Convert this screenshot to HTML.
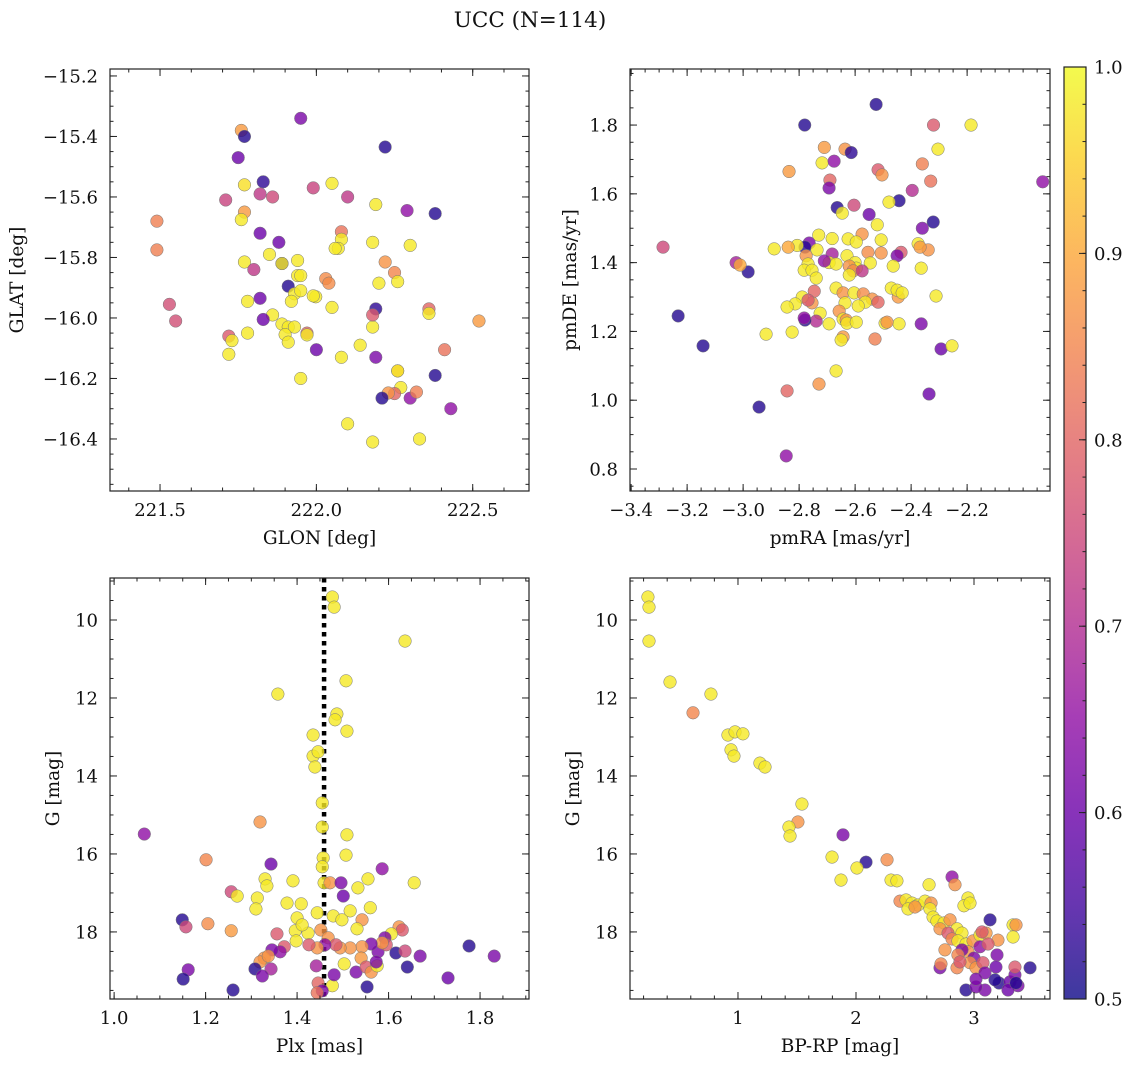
<!DOCTYPE html>
<html><head><meta charset="utf-8"><style>
body{margin:0;background:#fff}
svg text{font-family:"DejaVu Serif","Liberation Serif",serif;fill:#111}
</style></head><body>
<svg id="fig" width="1136" height="1067" viewBox="0 0 1136 1067" xmlns="http://www.w3.org/2000/svg">
<text x="530" y="27" font-size="21.5" text-anchor="middle">UCC (N=114)</text>
</svg>
<script>
// Panel 1: GLON / GLAT
const glon=[221.76,221.77,221.95,222.22,221.75,221.71,221.83,221.82,221.86,221.99,222.05,222.10,221.77,221.77,221.76,221.49,221.49,221.53,221.55,222.38,222.29,222.19,222.08,222.08,222.07,222.06,222.30,222.18,221.82,221.88,221.85,221.77,221.80,221.89,221.94,221.89,221.94,221.95,222.22,222.25,222.26,222.20,222.03,222.04,221.78,221.82,221.91,221.93,221.95,221.92,221.998,221.99,222.05,222.19,221.86,221.83,221.89,221.91,221.93,221.90,221.97,221.97,221.91,221.78,221.72,221.73,221.72,222.00,222.18,222.18,222.36,222.36,222.52,222.41,222.14,222.08,222.19,222.38,222.26,222.26,221.95,222.27,222.25,222.23,222.30,222.32,222.21,222.43,222.10,222.18,222.33];
const glat=[-15.38,-15.40,-15.34,-15.435,-15.47,-15.61,-15.55,-15.59,-15.60,-15.57,-15.555,-15.60,-15.56,-15.65,-15.675,-15.68,-15.775,-15.955,-16.01,-15.655,-15.645,-15.625,-15.715,-15.74,-15.77,-15.77,-15.76,-15.75,-15.72,-15.75,-15.79,-15.815,-15.84,-15.82,-15.81,-15.82,-15.86,-15.86,-15.815,-15.85,-15.88,-15.885,-15.87,-15.885,-15.945,-15.935,-15.895,-15.92,-15.91,-15.945,-15.93,-15.927,-15.965,-15.97,-15.99,-16.005,-16.02,-16.03,-16.03,-16.055,-16.05,-16.056,-16.08,-16.05,-16.06,-16.075,-16.12,-16.105,-16.03,-15.99,-15.97,-15.985,-16.01,-16.105,-16.09,-16.13,-16.13,-16.19,-16.175,-16.175,-16.2,-16.23,-16.25,-16.248,-16.265,-16.245,-16.265,-16.30,-16.35,-16.41,-16.40];
const prob1=[.88,.52,.62,.52,.6,.74,.53,.72,.75,.74,.98,.72,.97,.88,.98,.84,.84,.76,.76,.52,.65,.98,.82,.98,.98,.98,.98,.98,.6,.6,.98,.98,.72,.52,.98,.98,.98,.98,.87,.85,.98,.98,.86,.86,.98,.6,.52,.98,.98,.98,.98,.98,.98,.53,.98,.6,.98,.98,.98,.98,.8,.98,.98,.98,.78,.98,.98,.6,.98,.78,.8,.98,.88,.82,.98,.98,.62,.52,.87,.98,.98,.98,.8,.87,.65,.84,.52,.65,.98,.98,.98];
// Panel 2: pmRA / pmDE
const pmra=[-2.78,-2.525,-2.186,-2.32,-1.93,-2.636,-2.614,-2.71,-2.836,-2.718,-2.675,-2.69,-2.693,-2.518,-2.504,-2.36,-2.33,-2.304,-2.396,-2.443,-2.479,-2.664,-2.646,-2.604,-2.55,-2.521,-2.321,-2.36,-2.682,-2.73,-2.625,-2.575,-2.596,-2.507,-2.375,-2.339,-2.368,-2.436,-2.45,-2.554,-2.507,-2.764,-2.779,-2.807,-2.839,-2.889,-2.736,-2.775,-2.682,-2.629,-2.693,-2.668,-2.6,-2.546,-2.464,-2.364,-2.596,-2.621,-2.607,-2.575,-2.621,-2.71,-2.768,-2.782,-2.754,-2.739,-2.746,-2.668,-2.643,-2.604,-2.571,-2.539,-2.518,-2.446,-2.471,-2.45,-2.432,-2.311,-2.564,-2.754,-2.789,-2.814,-2.768,-2.636,-2.657,-2.589,-2.843,-2.725,-2.643,-2.632,-2.693,-2.629,-2.739,-2.596,-2.493,-2.443,-2.364,-2.486,-2.529,-2.643,-2.65,-2.825,-2.779,-2.782,-2.982,-3.025,-3.011,-3.286,-3.232,-3.143,-2.918,-2.293,-2.254,-2.668,-2.729,-2.843,-2.943,-2.336,-2.846];
const pmde=[1.80,1.86,1.80,1.80,1.635,1.73,1.72,1.735,1.665,1.69,1.695,1.64,1.617,1.67,1.655,1.687,1.637,1.73,1.61,1.58,1.576,1.56,1.544,1.567,1.54,1.51,1.518,1.50,1.47,1.48,1.469,1.483,1.46,1.466,1.455,1.437,1.445,1.43,1.42,1.43,1.428,1.457,1.445,1.45,1.445,1.44,1.437,1.42,1.425,1.42,1.40,1.396,1.40,1.399,1.39,1.384,1.384,1.39,1.376,1.376,1.364,1.405,1.396,1.378,1.378,1.355,1.317,1.326,1.312,1.312,1.309,1.294,1.285,1.30,1.326,1.32,1.312,1.303,1.285,1.283,1.30,1.28,1.291,1.283,1.259,1.274,1.271,1.253,1.236,1.233,1.222,1.224,1.23,1.227,1.224,1.222,1.222,1.227,1.178,1.184,1.175,1.198,1.233,1.239,1.373,1.40,1.393,1.445,1.245,1.158,1.192,1.149,1.158,1.085,1.047,1.027,0.98,1.018,0.838];
const prob2=[.52,.52,.98,.78,.65,.87,.53,.88,.88,.98,.65,.8,.62,.78,.87,.84,.82,.98,.7,.52,.98,.52,.98,.75,.6,.98,.52,.62,.98,.98,.98,.87,.98,.98,.98,.87,.88,.78,.62,.86,.87,.62,.52,.98,.9,.98,.98,.87,.68,.98,.98,.98,.98,.98,.98,.98,.98,.87,.86,.72,.98,.65,.98,.98,.98,.98,.8,.98,.87,.98,.86,.87,.8,.88,.98,.98,.98,.98,.98,.87,.98,.98,.78,.98,.87,.98,.98,.98,.98,.87,.98,.98,.7,.98,.98,.98,.62,.87,.84,.88,.98,.98,.52,.65,.52,.68,.9,.75,.52,.52,.98,.6,.98,.98,.87,.8,.52,.6,.65];
// Panel 3: Plx / G
const plx=[1.477,1.481,1.636,1.507,1.358,1.487,1.483,1.435,1.509,1.435,1.446,1.439,1.319,1.509,1.066,1.455,1.455,1.507,1.457,1.201,1.343,1.455,1.586,1.656,1.459,1.256,1.33,1.334,1.391,1.472,1.533,1.555,1.496,1.56,1.501,1.378,1.409,1.313,1.31,1.269,1.205,1.40,1.444,1.479,1.498,1.516,1.542,1.531,1.452,1.468,1.424,1.396,1.398,1.356,1.411,1.623,1.63,1.606,1.592,1.577,1.595,1.586,1.562,1.542,1.516,1.494,1.485,1.461,1.444,1.426,1.372,1.363,1.345,1.328,1.319,1.337,1.149,1.157,1.256,1.162,1.151,1.308,1.343,1.324,1.26,1.442,1.446,1.477,1.481,1.503,1.529,1.54,1.551,1.562,1.575,1.573,1.616,1.636,1.641,1.669,1.776,1.73,1.831,1.553,1.455,1.444];
const gmag3=[9.41,9.67,10.54,11.56,11.90,12.41,12.56,12.95,12.85,13.49,13.38,13.77,15.18,15.51,15.49,14.69,15.31,16.03,16.10,16.15,16.26,16.33,16.38,16.74,16.74,16.97,16.64,16.82,16.69,16.74,16.87,16.64,16.74,17.38,17.08,17.26,17.28,17.13,17.41,17.08,17.79,17.64,17.51,17.59,17.69,17.46,17.69,17.92,17.95,18.15,18.03,17.97,18.23,18.05,17.82,17.87,17.95,18.05,18.15,18.51,18.33,18.28,18.31,18.38,18.41,18.41,18.33,18.33,18.41,18.33,18.38,18.51,18.46,18.67,18.77,18.62,17.69,17.87,17.97,18.97,19.21,18.95,18.95,19.13,19.49,18.87,19.31,19.38,19.10,18.82,19.03,18.67,18.90,19.03,18.87,18.77,18.54,18.49,18.90,18.62,18.36,19.18,18.62,19.41,19.51,19.56];
const prob3=[.98,.98,.98,.98,.98,.98,.98,.98,.98,.98,.98,.98,.87,.98,.65,.98,.98,.98,.98,.85,.6,.98,.65,.98,.98,.75,.98,.98,.98,.87,.98,.98,.62,.98,.6,.98,.98,.98,.98,.98,.86,.98,.98,.98,.98,.98,.87,.98,.87,.87,.98,.98,.98,.78,.98,.87,.78,.98,.62,.62,.78,.87,.62,.87,.87,.87,.78,.65,.87,.78,.78,.65,.62,.87,.87,.87,.52,.75,.88,.62,.52,.52,.68,.62,.52,.68,.8,.98,.62,.98,.62,.88,.78,.87,.98,.62,.52,.75,.52,.62,.52,.6,.62,.52,.62,.82];
const meanPlx=[1.459];
// Panel 4: BP-RP / G
const bprp=[0.237,0.246,0.246,0.424,0.771,0.619,0.915,0.975,1.042,0.941,0.966,1.186,1.229,1.542,1.508,1.432,1.441,1.89,1.797,2.085,2.008,1.873,2.263,2.297,2.347,2.619,2.814,2.839,2.949,2.915,2.966,2.373,2.424,2.475,2.525,2.585,2.636,2.441,2.5,2.627,2.653,2.686,2.746,2.712,2.797,2.856,2.898,2.78,2.814,2.864,2.932,2.992,3.051,3.102,3.136,3.331,3.356,3.331,3.203,3.068,2.949,2.898,3.0,3.051,3.119,2.864,2.754,2.966,3.017,3.076,3.195,3.186,3.093,3.212,3.305,3.347,3.373,3.475,3.347,3.178,3.093,2.932,3.288,3.356,3.017,2.712,2.856,2.881,3.017,2.72];
const gmag4=[9.41,9.67,10.54,11.59,11.90,12.38,12.95,12.87,12.92,13.33,13.49,13.67,13.77,14.72,15.18,15.31,15.54,15.51,16.08,16.21,16.36,16.67,16.15,16.67,16.69,16.79,16.59,16.79,17.13,17.33,17.26,17.21,17.18,17.26,17.31,17.21,17.26,17.41,17.36,17.41,17.62,17.72,17.77,17.92,17.69,17.92,18.03,18.03,18.18,18.23,18.31,18.23,18.08,18.03,17.69,17.82,17.82,18.13,18.21,18.0,18.51,18.46,18.67,18.38,18.31,18.59,18.46,18.79,18.92,18.79,18.59,18.9,19.05,19.31,19.28,19.10,19.38,18.92,18.9,19.23,19.49,19.49,19.49,19.31,19.41,18.92,18.92,18.77,19.21,18.82];
const prob4=[.98,.98,.98,.98,.98,.85,.98,.98,.98,.98,.98,.98,.98,.98,.87,.98,.98,.62,.98,.52,.98,.98,.86,.98,.98,.98,.65,.87,.98,.98,.98,.85,.98,.98,.98,.98,.87,.98,.87,.98,.98,.98,.98,.87,.87,.98,.98,.78,.85,.98,.98,.87,.98,.88,.52,.98,.87,.98,.87,.78,.87,.62,.62,.65,.78,.85,.87,.87,.87,.78,.62,.6,.62,.52,.6,.62,.62,.52,.78,.52,.62,.52,.6,.52,.62,.62,.85,.78,.62,.85];

const cbTicks=[0.5,0.6,0.7,0.8,0.9,1.0];
const NS="http://www.w3.org/2000/svg";
const svg=document.getElementById('fig');
function mk(tag,attrs,parent){const e=document.createElementNS(NS,tag);for(const k in attrs)e.setAttribute(k,attrs[k]);(parent||svg).appendChild(e);return e;}
const stops=[[13,8,135],[65,4,157],[106,0,168],[143,13,164],[177,42,144],[204,71,120],[225,100,98],[242,132,75],[252,166,54],[252,206,37],[240,249,33]];
function plasma(t){t=Math.max(0,Math.min(1,t))*10;const i=Math.min(9,Math.floor(t)),f=t-i;const a=stops[i],b=stops[i+1];return 'rgb('+a.map((v,k)=>Math.round(v+(b[k]-v)*f)).join(',')+')';}
function cval(p){return plasma((p-0.5)/0.5);}
function fmt(v,d){const s=Math.abs(v).toFixed(d);return (v<-1e-9?'\u2212':'')+s;}
const TF=18, LF=18.5;
function panel(o){
  const g=mk('g',{});
  
  
  const X=v=>o.x0+(v-o.xd[0])/(o.xd[1]-o.xd[0])*(o.x1-o.x0);
  const Y=o.yinv? v=>o.y0+(v-o.yd[0])/(o.yd[1]-o.yd[0])*(o.y1-o.y0) : v=>o.y1-(v-o.yd[0])/(o.yd[1]-o.yd[0])*(o.y1-o.y0);
  if(o.extra) o.extra(g,X,Y);
  for(let i=0;i<o.xs.length;i++){
    const c=mk('circle',{cx:X(o.xs[i]),cy:Y(o.ys[i]),r:6.3,fill:cval(o.cs[i]),'fill-opacity':0.8,stroke:'#777','stroke-width':0.5},g);
    
    
  }
  mk('rect',{x:o.x0,y:o.y0,width:o.x1-o.x0,height:o.y1-o.y0,fill:'none',stroke:'#222','stroke-width':1.2},g);
  const eps=1e-9;
  for(let v=Math.ceil(o.xd[0]/o.xmin-eps)*o.xmin;v<=o.xd[1]+eps;v+=o.xmin){const x=X(v);mk('line',{x1:x,x2:x,y1:o.y1,y2:o.y1-3.5,stroke:'#222'},g);mk('line',{x1:x,x2:x,y1:o.y0,y2:o.y0+3.5,stroke:'#222'},g);}
  for(let v=Math.ceil(o.yd[0]/o.ymin-eps)*o.ymin;v<=o.yd[1]+eps;v+=o.ymin){const y=Y(v);mk('line',{x1:o.x0,x2:o.x0+3.5,y1:y,y2:y,stroke:'#222'},g);mk('line',{x1:o.x1,x2:o.x1-3.5,y1:y,y2:y,stroke:'#222'},g);}
  o.xt.forEach(v=>{const x=X(v);mk('line',{x1:x,x2:x,y1:o.y1,y2:o.y1-7,stroke:'#222'},g);mk('line',{x1:x,x2:x,y1:o.y0,y2:o.y0+7,stroke:'#222'},g);
    const t=mk('text',{x:x,y:o.y1+25,'font-size':TF,'text-anchor':'middle'},g);t.textContent=fmt(v,o.xdec);});
  o.yt.forEach(v=>{const y=Y(v);mk('line',{x1:o.x0,x2:o.x0+7,y1:y,y2:y,stroke:'#222'},g);mk('line',{x1:o.x1,x2:o.x1-7,y1:y,y2:y,stroke:'#222'},g);
    const t=mk('text',{x:o.x0-12,y:y+6.5,'font-size':TF,'text-anchor':'end'},g);t.textContent=fmt(v,o.ydec);});
  const xl=mk('text',{x:(o.x0+o.x1)/2,y:o.y1+53,'font-size':LF,'text-anchor':'middle'},g);xl.textContent=o.xlab;
  
  const yl=mk('text',{x:o.ylx,y:(o.y0+o.y1)/2,'font-size':LF,'text-anchor':'middle',transform:`rotate(-90 ${o.ylx} ${(o.y0+o.y1)/2})`},g);yl.textContent=o.ylab;
  
}
const rng=(a,b,s)=>{const r=[];for(let v=a;v<=b+1e-9;v+=s)r.push(Math.round(v*1000)/1000);return r;};
panel({name:'glon-glat-panel',x0:110,x1:529,y0:69,y1:491,xd:[221.34,222.68],yd:[-16.572,-15.177],xt:[221.5,222,222.5],yt:rng(-16.4,-15.2,0.2),xmin:0.1,ymin:0.05,xdec:1,ydec:1,xs:glon,ys:glat,cs:prob1,xlab:'GLON [deg]',ylab:'GLAT [deg]',ylx:23});
panel({name:'proper-motion-panel',x0:630,x1:1050,y0:69,y1:491,xd:[-3.404,-1.904],yd:[0.736,1.963],xt:rng(-3.4,-2.2,0.2),yt:rng(0.8,1.8,0.2),xmin:0.05,ymin:0.05,xdec:1,ydec:1,xs:pmra,ys:pmde,cs:prob2,xlab:'pmRA [mas/yr]',ylab:'pmDE [mas/yr]',ylx:576});
panel({name:'plx-g-panel',x0:110,x1:529,y0:578,y1:999,xd:[0.991,1.907],yd:[8.923,19.72],yinv:true,xt:rng(1.0,1.8,0.2),yt:[10,12,14,16,18],xmin:0.05,ymin:0.5,xdec:1,ydec:0,xs:plx,ys:gmag3,cs:prob3,xlab:'Plx [mas]',ylab:'G [mag]',ylx:59,
  extra:(g,X,Y)=>{const l=mk('line',{x1:X(meanPlx[0]),x2:X(meanPlx[0]),y1:578,y2:999,stroke:'#000','stroke-width':4.5,'stroke-dasharray':'4.5 4.5'},g);}});
panel({name:'cmd-panel',x0:630,x1:1050,y0:578,y1:999,xd:[0.085,3.644],yd:[8.923,19.72],yinv:true,xt:[1,2,3],yt:[10,12,14,16,18],xmin:0.2,ymin:0.5,xdec:0,ydec:0,xs:bprp,ys:gmag4,cs:prob4,xlab:'BP-RP [mag]',ylab:'G [mag]',ylx:579});

const cb=mk('g',{});


const defs=mk('defs',{},cb);const lg=mk('linearGradient',{id:'pl',x1:0,y1:1,x2:0,y2:0},defs);
for(let i=0;i<=20;i++){mk('stop',{offset:i/20,'stop-color':plasma(i/20),'stop-opacity':0.8},lg);}
const cbY=v=>999-(v-0.5)/0.5*932;
mk('rect',{x:1064,y:67,width:22,height:932,fill:'url(#pl)',stroke:'#222','stroke-width':1.2},cb);
for(let v=0.5;v<=1.0001;v+=0.02){mk('line',{x1:1086,x2:1082.5,y1:cbY(v),y2:cbY(v),stroke:'#222'},cb);}
cbTicks.forEach(v=>{const y=cbY(v);mk('line',{x1:1086,x2:1079,y1:y,y2:y,stroke:'#222'},cb);
  const t=mk('text',{x:1094,y:y+6.5,'font-size':TF},cb);t.textContent=v.toFixed(1);});
</script>
</body></html>
